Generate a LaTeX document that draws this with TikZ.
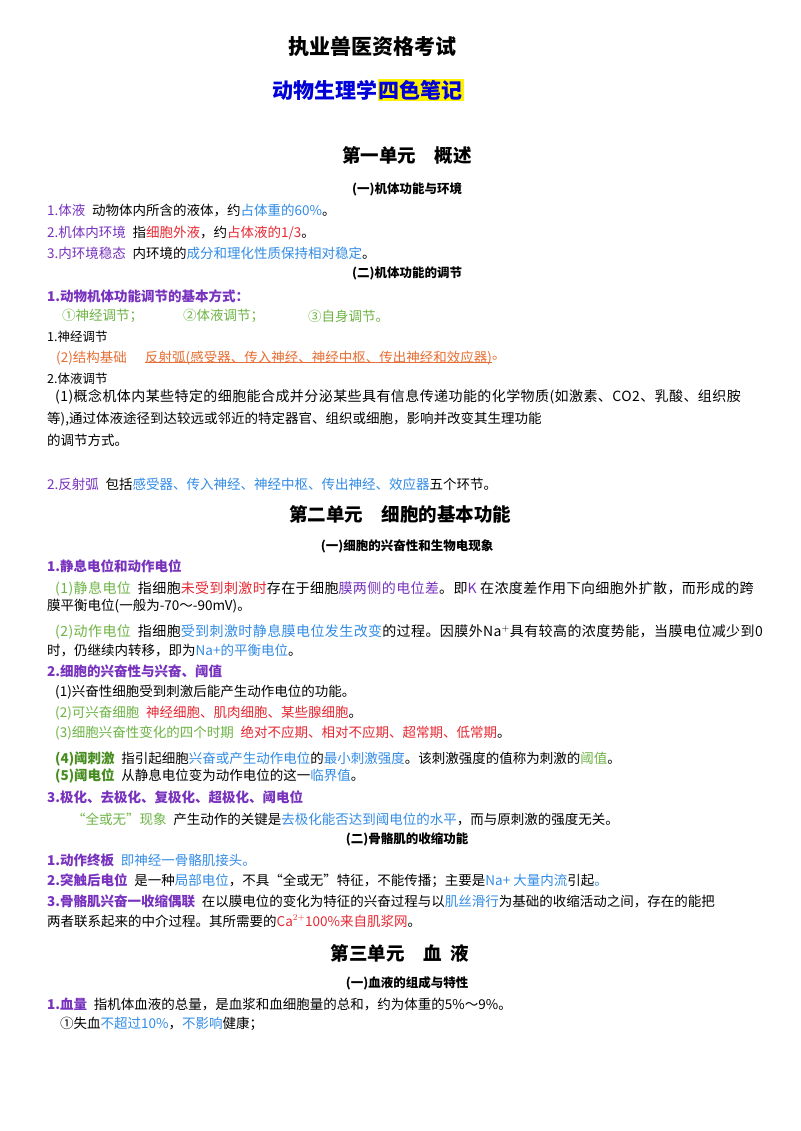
\documentclass[tikz,border=0pt]{standalone}
\usepackage{fontspec}
\setmainfont{Noto Sans CJK SC}
\usepackage{xcolor}
\definecolor{cpur}{RGB}{120,50,190}
\definecolor{cblu}{RGB}{50,140,230}
\definecolor{cred}{RGB}{230,40,50}
\definecolor{cgrn}{RGB}{110,180,70}
\definecolor{corg}{RGB}{230,110,50}
\definecolor{cdgr}{RGB}{70,140,30}
\newcommand\cP[1]{\textcolor{cpur}{#1}}
\newcommand\cB[1]{\textcolor{cblu}{#1}}
\newcommand\cR[1]{\textcolor{cred}{#1}}
\newcommand\cG[1]{\textcolor{cgrn}{#1}}
\newcommand\cD[1]{\textcolor{cdgr}{#1}}
\begin{document}
\begin{tikzpicture}[x=1pt,y=-1pt,
  L/.style={anchor=west,inner sep=0pt,font=\fontsize{13.5}{15}\selectfont},
  W/.style={L,font=\fontsize{14}{15}\selectfont\addfontfeature{LetterSpace=3}},
  H/.style={anchor=center,inner sep=0pt,font=\fontsize{12.5}{14}\selectfont\bfseries},
  U/.style={anchor=center,inner sep=0pt,font=\fontsize{18.5}{20}\selectfont\bfseries},
  B/.style={L,font=\fontsize{13.5}{15}\selectfont\bfseries}]
\useasboundingbox (0,0) rectangle (800,1131);
\fill[white] (0,0) rectangle (800,1131);
\node[U,font=\fontsize{21}{24}\selectfont\bfseries] (t1) at (372,46) {执业兽医资格考试};
\node[anchor=west,inner sep=0pt,font=\fontsize{21}{24}\selectfont\bfseries,text=blue!85!black] (t2a) at (272,90) {动物生理学};
\node[anchor=west,inner sep=1pt,fill=yellow,font=\fontsize{21}{24}\selectfont\bfseries,text=blue!85!black] (t2b) at (t2a.east) {四色笔记};
\node[U] (u1) at (407,155) {第一单元\quad 概述};
\node[H] (h1) at (407,189) {(一)机体功能与环境};
\node[L] (a1) at (47,211) {\cP{1.体液}\enspace 动物体内所含的液体，约\cB{占体重的60\%}。};
\node[L] (a2) at (47,233) {\cP{2.机体内环境}\enspace 指\cR{细胞外液}，约\cR{占体液的1/3}。};
\node[L] (a3) at (47,253) {\cP{3.内环境稳态}\enspace 内环境的\cB{成分和理化性质保持相对稳定}。};
\node[H] (h2) at (407,273) {(二)机体功能的调节};
\node[B] (a4) at (47,296) {\cP{1.动物机体功能调节的基本方式：}};
\node[L] (a5) at (62,316) {\cG{①神经调节；}};
\node[L] (a6) at (183,316) {\cG{②体液调节；}};
\node[L] (a7) at (308,316) {\cG{③自身调节。}};
\node[L,font=\fontsize{12.5}{14}\selectfont] (a8) at (47,337) {1.神经调节};
\node[L] (a9a) at (56,358) {\textcolor{corg}{(2)结构基础}};
\node[L] (a9) at (145,358) {\textcolor{corg}{反射弧(感受器、传入神经、神经中枢、传出神经和效应器)}};
\node[L] (a9c) at (a9.east) {\textcolor{corg}{。}};
\draw[corg,line width=0.6pt] ([yshift=3pt]a9.south west) -- ([yshift=3pt]a9.south east);
\node[L,font=\fontsize{12.5}{14}\selectfont] (a10) at (47,379) {2.体液调节};
\node[W] (a11) at (55,397) {(1)概念机体内某些特定的细胞能合成并分泌某些具有信息传递功能的化学物质(如激素、CO2、乳酸、组织胺};
\node[L] (a12) at (47,419) {等),通过体液途径到达较远或邻近的特定器官、组织或细胞，影响并改变其生理功能};
\node[L] (a13) at (47,440) {的调节方式。};
\node[L] (a14) at (47,484) {\cP{2.反射弧}\enspace 包括\cB{感受器、传入神经、神经中枢、传出神经、效应器}五个环节。};
\node[U] (u2) at (400,514) {第二单元\quad 细胞的基本功能};
\node[H] (h3) at (407,546) {(一)细胞的兴奋性和生物电现象};
\node[B] (b1) at (47,566) {\cP{1.静息电位和动作电位}};
\node[W] (b2) at (55,589) {\cG{(1)静息电位}\enspace 指细胞\cR{未受到刺激时}存在于细胞\cP{膜两侧的电位差}。即\cP{K}\ 在浓度差作用下向细胞外扩散，而形成的跨};
\node[L] (b3) at (47,606) {膜平衡电位(一般为-70～-90mV)。};
\node[W] (b4) at (55,632) {\cG{(2)动作电位}\enspace 指细胞\cB{受到刺激时静息膜电位发生改变}的过程。因膜外Na$^{+}$具有较高的浓度势能，当膜电位减少到0};
\node[L] (b5) at (47,650) {时，仍继续内转移，即为\cB{Na+的平衡电位}。};
\node[B] (b6) at (47,671) {\cP{2.细胞的兴奋性与兴奋、阈值}};
\node[L] (b7) at (55,692) {(1)兴奋性细胞受到刺激后能产生动作电位的功能。};
\node[L] (b8) at (55,713) {\cG{(2)可兴奋细胞}\enspace \cR{神经细胞、肌肉细胞、某些腺细胞}。};
\node[L] (b9) at (55,733) {\cG{(3)细胞兴奋性变化的四个时期}\enspace \cR{绝对不应期、相对不应期、超常期、低常期}。};
\node[L] (b10) at (55,759) {\cD{\bfseries (4)阈刺激}\enspace 指引起细胞\cB{兴奋或产生动作电位}的\cB{最小刺激强度}。该刺激强度的值称为刺激的\cG{阈值}。};
\node[L] (b11) at (55,776) {\cD{\bfseries (5)阈电位}\enspace 从静息电位变为动作电位的这一\cB{临界值}。};
\node[B] (b12) at (47,797) {\cP{3.极化、去极化、复极化、超极化、阈电位}};
\node[L] (b13) at (72,819) {\cG{“全或无”现象}\enspace 产生动作的关键是\cB{去极化能否达到阈电位的水平}，而与原刺激的强度无关。};
\node[H] (h4) at (407,839) {(二)骨骼肌的收缩功能};
\node[L] (c1) at (47,860) {\cP{\bfseries 1.动作终板}\enspace \cB{即神经一骨骼肌接头。}};
\node[L] (c2) at (47,881) {\cP{\bfseries 2.突触后电位}\enspace 是一种\cB{局部电位}，不具“全或无”特征，不能传播；主要是\cB{Na+ 大量内流}引起\cB{ 。}};
\node[L] (c3) at (47,901) {\cP{\bfseries 3.骨骼肌兴奋一收缩偶联}\enspace 在以膜电位的变化为特征的兴奋过程与以\cB{肌丝滑行}为基础的收缩活动之间，存在的能把};
\node[L] (c4) at (47,921) {两者联系起来的中介过程。其所需要的\cR{Ca$^{2+}$100\%来自肌浆网}。};
\node[U] (u3) at (400,953) {第三单元\quad 血\enspace 液};
\node[H] (h5) at (407,983) {(一)血液的组成与特性};
\node[L] (d1) at (47,1004) {\cP{\bfseries 1.血量}\enspace 指机体血液的总量，是血浆和血细胞量的总和，约为体重的5\%～9\%。};
\node[L] (d2) at (60,1024) {①失血\cB{不超过10\%}，\cB{不影响}健康；};
\end{tikzpicture}
\end{document}
